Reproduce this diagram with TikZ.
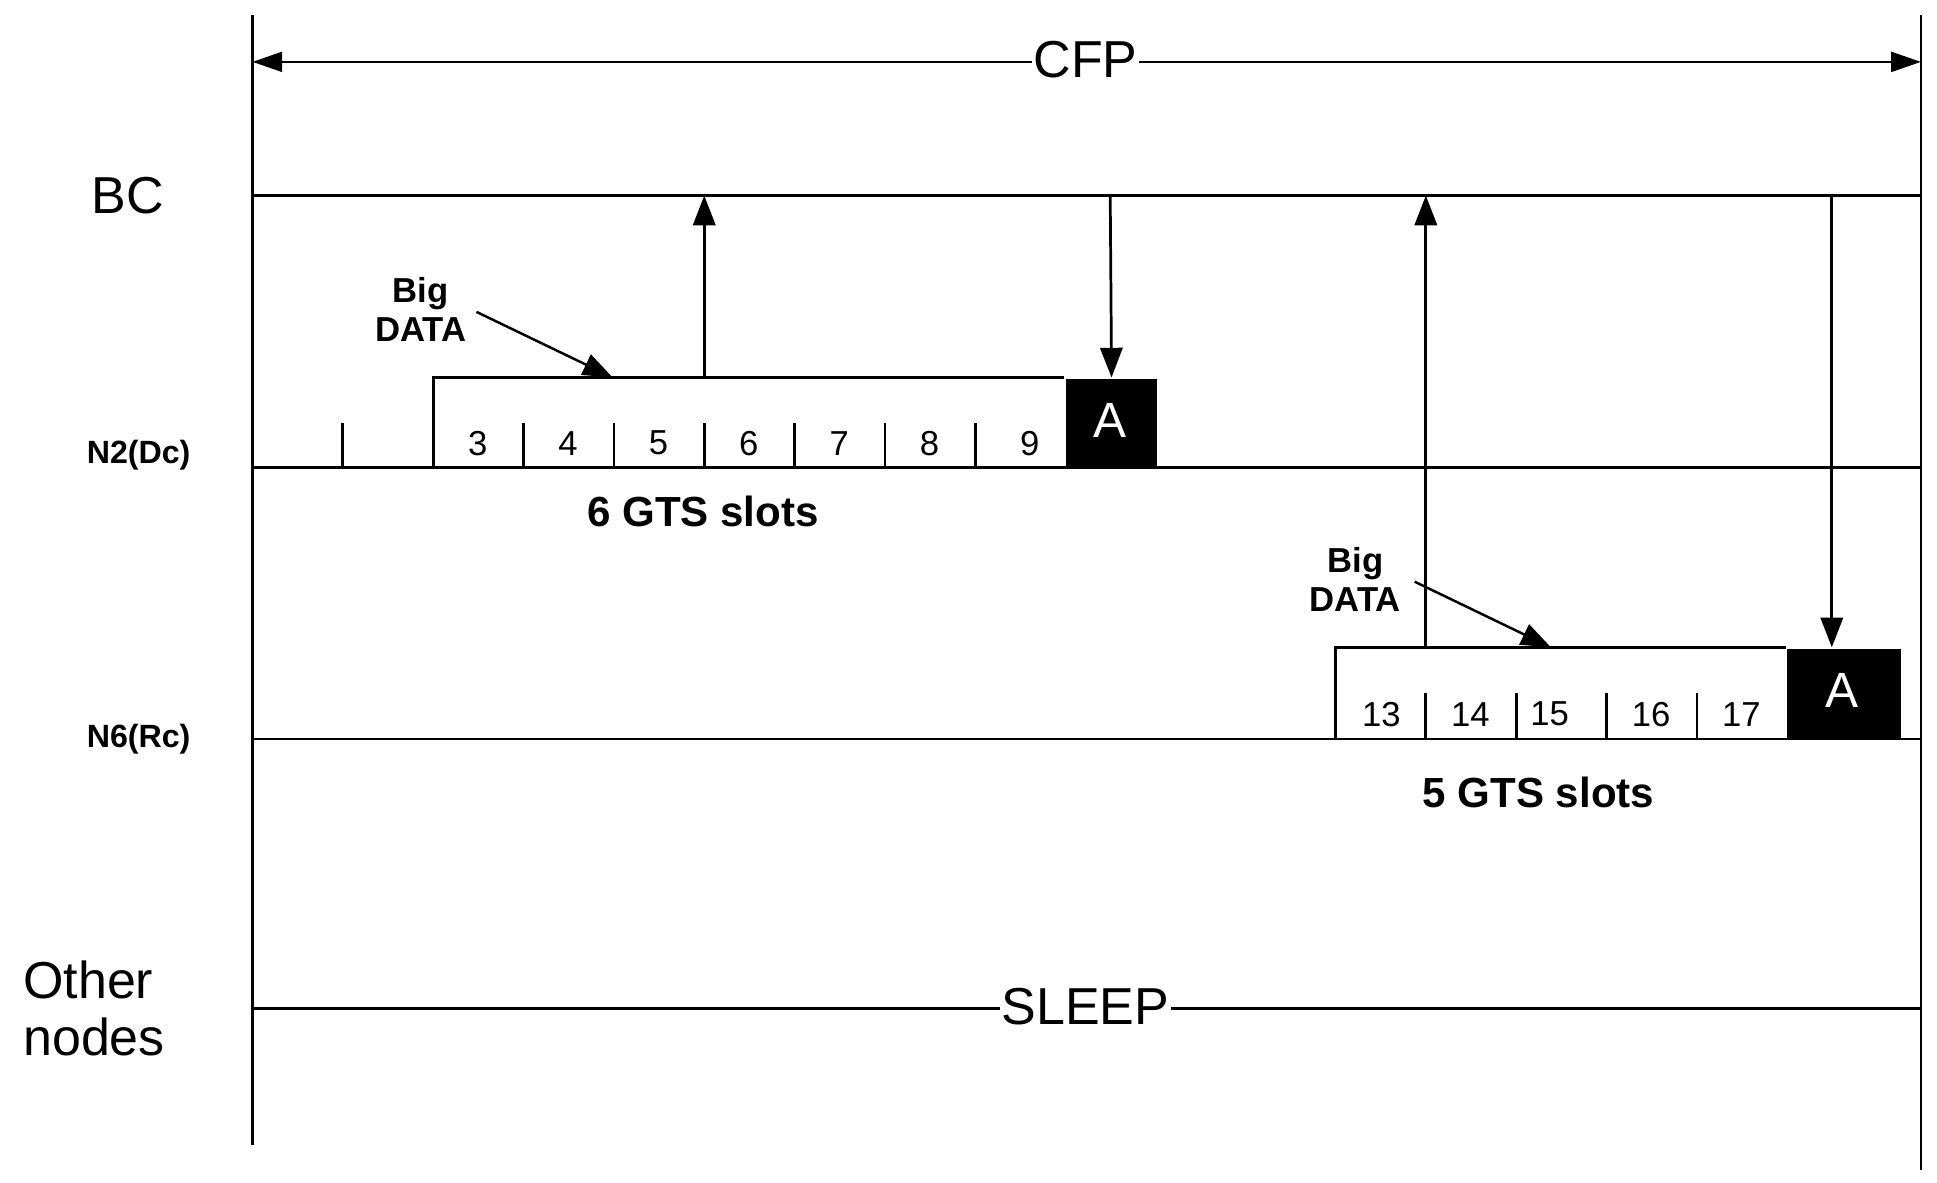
\documentclass[tikz,border=0pt]{standalone}
\usepackage{fontspec}
\setmainfont{Liberation Sans}
\usetikzlibrary{arrows.meta}
\begin{document}
\begin{tikzpicture}[x=1pt,y=-1pt,line width=2.2pt,
  big/.style={font=\fontsize{42}{46}\selectfont,inner sep=1pt},
  lab/.style={font=\bfseries\fontsize{26}{28}\selectfont},
  num/.style={font=\fontsize{28}{30}\selectfont},
  bd/.style={font=\bfseries\fontsize{28}{32}\selectfont,align=center},
  gts/.style={font=\bfseries\fontsize{34}{36}\selectfont},
  arr/.style={-{Triangle[length=24pt,width=18pt]}},
  darr/.style={{Triangle[length=24pt,width=16pt]}-{Triangle[length=24pt,width=16pt]}}]
\useasboundingbox (0,0) rectangle (1565,955);
\coordinate (L0) at (204,12); \coordinate (L1) at (204,925);
\coordinate (R0) at (1552,12); \coordinate (R1) at (1552,945);
\draw (L0) -- (L1); \draw (R0) -- (R1);
% CFP
\coordinate (c0) at (204,50); \coordinate (c1) at (1552,50);
\draw[darr] (c0) -- (c1);
\node[big,fill=white] (cfp) at (877,48) {CFP};
% lines
\node[big] (bc) at (103,158) {BC};
\draw (204,158) -- (1552,158);
\node[lab] (n2) at (112,368) {N2(Dc)};
\draw (204,378) -- (1552,378);
\node[lab] (n6) at (112,597) {N6(Rc)};
\draw (204,597) -- (1552,597);
\node[big,align=left] (oth) at (76,815) {Other\\nodes};
\draw (204,815) -- (1552,815);
\node[big,fill=white] (sleep) at (877,813) {SLEEP};
% N2 box
\draw (277,342) -- (277,378);
\draw (350,378) -- (350,305) -- (860,305);
\node[fill=black,minimum width=74pt,minimum height=73pt,anchor=north west,inner sep=0,text=white,font=\fontsize{40}{40}\selectfont,text depth=0pt] (a1) at (860,305) {};
\node[text=white,font=\fontsize{40}{40}\selectfont] at (897,340) {A};
\foreach \x in {423,496,569,642,715,788} \draw (\x,342) -- (\x,378);
\foreach \x/\n in {386/3,459/4,532/5,605/6,678/7,751/8,832/9} \node[num] at (\x,358) {\n};
\coordinate (u1a) at (569,305); \coordinate (u1b) at (569,158);
\draw[arr] (u1a) -- (u1b);
\coordinate (d1a) at (897,158);
\draw[arr] (d1a) -- (a1.north);
\node[bd] (bd1) at (340,250) {Big\\DATA};
\coordinate (b1e) at (495,305);
\draw[arr,line width=2pt] (385,252) -- (b1e);
\node[gts] (g1) at (568,413) {6 GTS slots};
% N6 box
\draw (1079,597) -- (1079,523) -- (1443,523);
\node[fill=black,minimum width=92pt,minimum height=74pt,anchor=north west,inner sep=0] (a2) at (1443,523) {};
\node[text=white,font=\fontsize{40}{40}\selectfont] at (1488,558) {A};
\foreach \x in {1152,1225,1298,1371} \draw (\x,560) -- (\x,597);
\foreach \x/\n in {1116/13,1188/14,1252/15,1334/16,1407/17} \node[num] at (\x,577) {\n};
\coordinate (u2a) at (1152,523); \coordinate (u2b) at (1152,158);
\draw[arr] (u2a) -- (u2b);
\coordinate (d2a) at (1480,158); \coordinate (d2b) at (1480,523);
\draw[arr] (d2a) -- (d2b);
\node[bd] (bd2) at (1095,468) {Big\\DATA};
\coordinate (b2e) at (1253,523);
\draw[arr,line width=2pt] (1143,470) -- (b2e);
\node[gts] (g2) at (1243,640) {5 GTS slots};
\end{tikzpicture}
\end{document}
